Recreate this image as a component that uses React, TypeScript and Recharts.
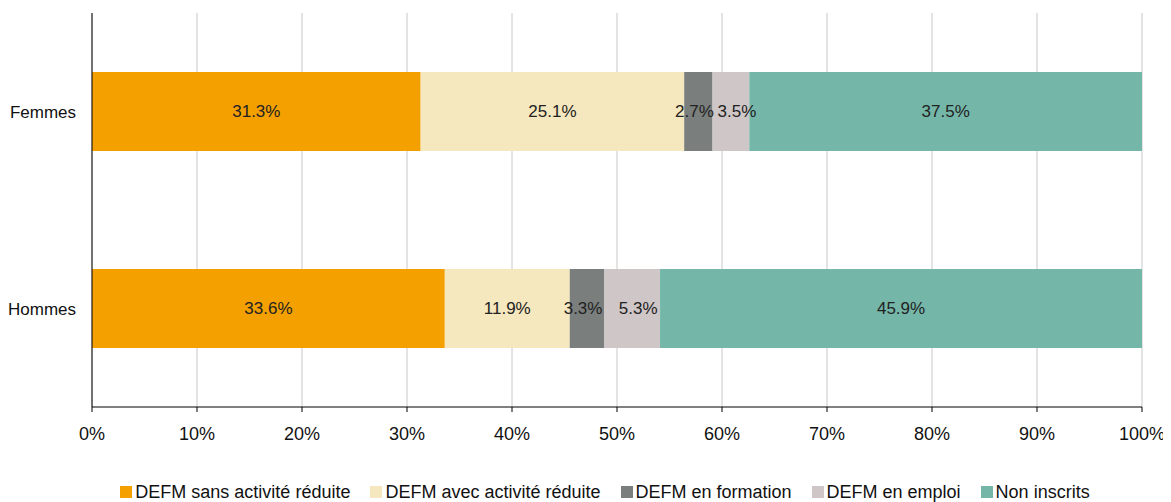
import React from "react";
import {
  BarChart,
  Bar,
  XAxis,
  YAxis,
  CartesianGrid,
  Legend,
  LabelList,
} from "recharts";

// categories, top to bottom
const categories = ["Femmes", "Hommes"];

// share of each group (%)
const sansActivite = [31.3, 33.6];
const avecActivite = [25.1, 11.9];
const enFormation = [2.7, 3.3];
const enEmploi = [3.5, 5.3];
const nonInscrits = [37.5, 45.9];

const xTicks = [0, 10, 20, 30, 40, 50, 60, 70, 80, 90, 100];

// nudge = small horizontal shift of the value label so thin segments don't collide
const series = [
  { key: "sans", name: "DEFM sans activité réduite", values: sansActivite, color: "#F4A000", nudge: 0 },
  { key: "avec", name: "DEFM avec activité réduite", values: avecActivite, color: "#F5E7BE", nudge: 0 },
  { key: "formation", name: "DEFM en formation", values: enFormation, color: "#7A7E7C", nudge: -4 },
  { key: "emploi", name: "DEFM en emploi", values: enEmploi, color: "#CEC6C7", nudge: 6 },
  { key: "non", name: "Non inscrits", values: nonInscrits, color: "#74B7A9", nudge: 0 },
];

const data = categories.map((c, i) => {
  const row: { [k: string]: string | number } = { name: c };
  series.forEach((s) => {
    row[s.key] = s.values[i];
  });
  return row;
});

const font = "'Liberation Sans', Arial, sans-serif";

function LegendContent() {
  return (
    <div
      style={{
        display: "flex",
        justifyContent: "center",
        gap: 20,
        fontFamily: font,
        fontSize: 18,
        color: "#111",
        lineHeight: "20px",
        paddingLeft: 60,
      }}
    >
      {series.map((s) => (
        <div key={s.key} style={{ display: "flex", alignItems: "center" }}>
          <span
            style={{
              width: 12,
              height: 12,
              background: s.color,
              display: "inline-block",
              marginRight: 3,
            }}
          />
          {s.name}
        </div>
      ))}
    </div>
  );
}

const makeLabel = (nudge: number) => (props: any) => {
  const { x, y, width, height, value } = props;
  if (value == null) return null;
  return (
    <text
      x={Number(x) + Number(width) / 2 + nudge}
      y={Number(y) + Number(height) / 2}
      textAnchor="middle"
      dominantBaseline="central"
      fontFamily={font}
      fontSize={17}
      fill="#222"
    >
      {`${Number(value).toFixed(1)}%`}
    </text>
  );
};

export default function App() {
  return (
    <div style={{ width: 1163, height: 494, background: "#fff" }}>
      <BarChart
        width={1163}
        height={494}
        data={data}
        layout="vertical"
        barCategoryGap="30%"
        margin={{ top: 5, right: 29, left: 0, bottom: 0 }}
      >
        <CartesianGrid horizontal={false} stroke="#C8C8C8" />
        <XAxis
          type="number"
          domain={[0, 100]}
          ticks={xTicks}
          allowDataOverflow
          tickFormatter={(v) => `${v}%`}
          tick={{ fontFamily: font, fontSize: 18, fill: "#111" }}
          tickSize={5}
          tickMargin={15}
          stroke="#000"
          height={75}
        />
        <YAxis
          yAxisId={0}
          type="number"
          orientation="left"
          domain={[0, 2]}
          ticks={[0, 1, 2]}
          tick={false}
          tickSize={4}
          width={1}
          stroke="#000"
        />
        <YAxis
          yAxisId={1}
          type="category"
          dataKey="name"
          width={83}
          axisLine={false}
          tickLine={false}
          tickMargin={9}
          tick={{ fontFamily: font, fontSize: 17, fill: "#111" }}
        />
        <Legend
          verticalAlign="bottom"
          height={20}
          content={<LegendContent />}
        />
        {series.map((s) => (
          <Bar
            key={s.key}
            yAxisId={1}
            dataKey={s.key}
            name={s.name}
            stackId="a"
            fill={s.color}
            isAnimationActive={false}
          >
            <LabelList dataKey={s.key} content={makeLabel(s.nudge)} />
          </Bar>
        ))}
      </BarChart>
    </div>
  );
}
